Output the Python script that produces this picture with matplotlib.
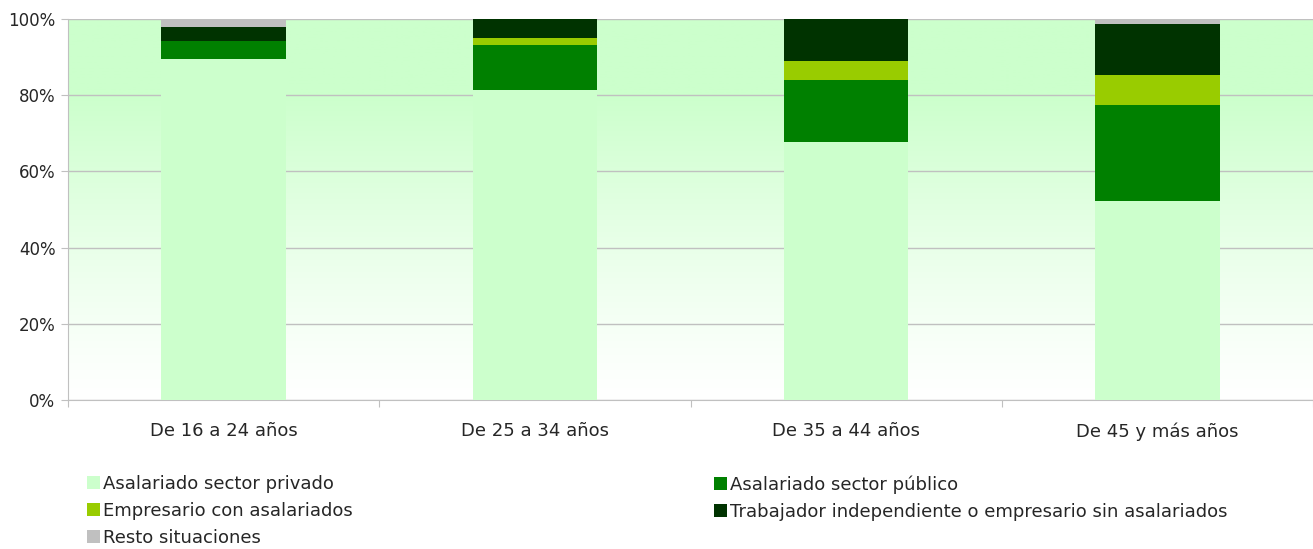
import numpy as np
import matplotlib.pyplot as plt
from matplotlib.colors import to_rgb
from matplotlib.patches import Patch

plt.rcParams['font.family'] = ['DejaVu Sans']

# data (percent of employed, by age group)
categories = ['De 16 a 24 años', 'De 25 a 34 años', 'De 35 a 44 años', 'De 45 y más años']
series_names = ['Asalariado sector privado', 'Asalariado sector público',
                'Empresario con asalariados',
                'Trabajador independiente o empresario sin asalariados',
                'Resto situaciones']
privado = [89.6, 81.3, 67.6, 52.2]
publico = [4.5, 12.0, 16.5, 25.1]
empresario = [0.0, 1.8, 5.0, 7.9]
independiente = [3.8, 4.9, 10.9, 13.6]
resto = [2.1, 0.0, 0.0, 1.2]
colors = ['#ccffcc', '#008000', '#99cc00', '#003300', '#c0c0c0']

fig = plt.figure(figsize=(13.13, 5.49), dpi=100)
ax = fig.add_axes([68/1313, 1 - 400/549, 1245/1313, 381/549])

# background gradient: light green at top fading to white
top = np.array(to_rgb('#ccffcc'))
yy = np.linspace(0, 1, 256)
t = np.clip(yy / 0.8, 0, 1) ** 1.2
grad = (1 - t)[:, None] * np.ones(3) + t[:, None] * top
grad = np.repeat(grad[:, None, :], 2, axis=1)
ax.imshow(grad, extent=[-0.5, 3.5, 0, 100], origin='lower', aspect='auto', zorder=0)

x = np.arange(len(categories))
bottom = np.zeros(len(categories))
for vals, col in zip([privado, publico, empresario, independiente, resto], colors):
    ax.bar(x, vals, bottom=bottom, width=0.40, color=col, zorder=3)
    bottom += np.array(vals)

ax.set_xlim(-0.5, 3.5)
ax.set_ylim(0, 100)
ax.set_yticks(np.arange(0, 101, 20))
ax.set_yticklabels([f'{v}%' for v in range(0, 101, 20)], fontsize=12, color='#262626')
ax.yaxis.grid(True, color='#c0c0c0', linewidth=1, zorder=1)
ax.set_axisbelow(True)

ax.set_xticks([-0.5, 0.5, 1.5, 2.5, 3.5])
ax.set_xticklabels([])
ax.set_xticks(x, minor=True)
ax.set_xticklabels(categories, minor=True, fontsize=13, color='#262626')
ax.tick_params(axis='x', which='major', length=5, color='#c0c0c0')
ax.tick_params(axis='x', which='minor', length=0, pad=16)
ax.tick_params(axis='y', length=5, color='#c0c0c0', pad=4)

for s in ['top', 'right']:
    ax.spines[s].set_visible(False)
for s in ['left', 'bottom']:
    ax.spines[s].set_color('#c0c0c0')

# legend in two columns, row-major order like the original
leg_kw = dict(loc='upper left', frameon=False, fontsize=13, handlelength=0.7,
              handleheight=0.7, handletextpad=0.2, labelspacing=0.5,
              borderaxespad=0, borderpad=0, labelcolor='#262626')
col1 = [Patch(facecolor=colors[i], label=series_names[i]) for i in [0, 2, 4]]
col2 = [Patch(facecolor=colors[i], label=series_names[i]) for i in [1, 3]]
fig.legend(handles=col1, bbox_to_anchor=(87/1313, 1 - 475/549), **leg_kw)
fig.legend(handles=col2, bbox_to_anchor=(714/1313, 1 - 475/549), **leg_kw)

fig.savefig('out.png', dpi=100)
